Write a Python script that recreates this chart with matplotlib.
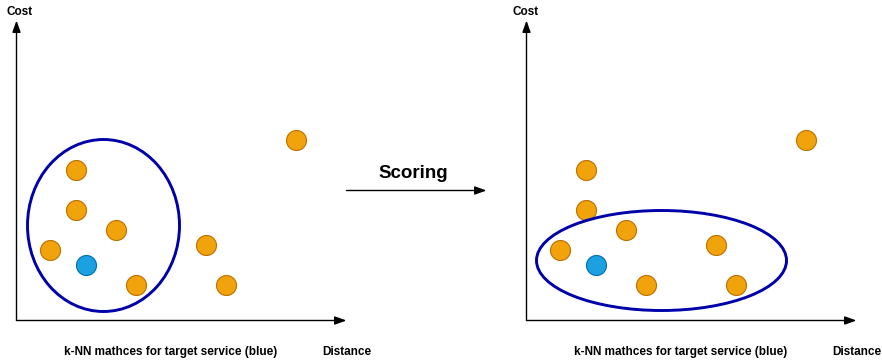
import matplotlib.pyplot as plt
from matplotlib.patches import Ellipse, Circle

plt.rcParams['font.family'] = ['Liberation Sans', 'DejaVu Sans']

# service points (distance, cost) relative to each panel's origin
dist = [60, 60, 100, 34, 120, 190, 210, 280]
cost = [150, 110, 90, 70, 35, 75, 35, 180]
target_dist, target_cost = 70, 55

x_label = 'Distance'
y_label = 'Cost'
caption = 'k-NN mathces for target service (blue)'
step_label = 'Scoring'

# panel origins in figure pixels
panels = [(16.5, 320.5), (526.5, 320.5)]
cost_label_x = [20, 526]
# k-NN selection ellipse per panel: center (dist, cost), width, height
knn_sets = [((87, 95), 152, 172), ((135, 60), 250, 100)]

orange, orange_edge = '#F0A30A', '#BD7000'
blue, blue_edge = '#1BA1E2', '#006EAF'
ring = '#0000AA'

fig = plt.figure(figsize=(8.82, 3.61), dpi=100)
ax = fig.add_axes([0, 0, 1, 1])
ax.set_xlim(0, 882)
ax.set_ylim(361, 0)
ax.axis('off')

arrow = dict(arrowstyle='-|>,head_length=0.7,head_width=0.25', color='black', lw=1, shrinkA=0, shrinkB=0)

for (ox, oy), lx, (ec, ew, eh) in zip(panels, cost_label_x, knn_sets):
    ax.annotate('', xy=(ox, oy - 300), xytext=(ox, oy), arrowprops=arrow)
    ax.annotate('', xy=(ox + 330, oy), xytext=(ox, oy), arrowprops=arrow)
    ax.text(lx, 12, y_label, ha='center', va='center', fontsize=8.5, fontweight='bold')
    ax.text(ox + 330, 352, x_label, ha='center', va='center', fontsize=8.5, fontweight='bold')
    ax.text(ox + 154, 352, caption, ha='center', va='center', fontsize=8.5, fontweight='bold')
    for d, c in zip(dist, cost):
        ax.add_patch(Circle((ox + d, oy - c), 10, facecolor=orange, edgecolor=orange_edge, lw=0.8))
    ax.add_patch(Circle((ox + target_dist, oy - target_cost), 10, facecolor=blue, edgecolor=blue_edge, lw=0.8))
    ax.add_patch(Ellipse((ox + ec[0], oy - ec[1]), ew, eh, fill=False, edgecolor=ring, lw=2.1))

ax.annotate('', xy=(486.5, 190.5), xytext=(346.5, 190.5), arrowprops=arrow)
ax.text(413, 173, step_label, ha='center', va='center', fontsize=13.5, fontweight='bold')

fig.savefig('out.png', dpi=100)
